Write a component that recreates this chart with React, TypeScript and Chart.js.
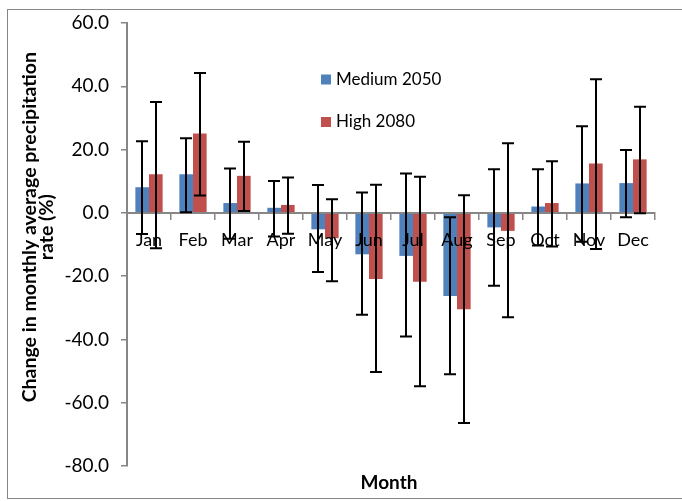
import React, { useEffect, useRef } from "react";
import { Chart, registerables } from "chart.js";

Chart.register(...registerables);

// ---- Data ----
const months = ["Jan", "Feb", "Mar", "Apr", "May", "Jun", "Jul", "Aug", "Sep", "Oct", "Nov", "Dec"];
const seriesNames = ["Medium 2050", "High 2080"];
const medium2050 = [8.1, 12.2, 3.1, 1.6, -5.2, -13.1, -13.6, -26.3, -4.6, 2.0, 9.3, 9.4];
const high2080 = [12.2, 25.1, 11.7, 2.5, -8.0, -20.9, -21.8, -30.5, -5.7, 3.1, 15.6, 16.9];
const medium2050Upper = [22.6, 23.6, 14.0, 10.1, 8.8, 6.4, 12.4, -1.4, 13.8, 13.8, 27.4, 19.9];
const medium2050Lower = [-6.7, 0.2, -8.2, -7.5, -18.7, -32.2, -39.1, -51.0, -23.0, -10.3, -9.1, -1.4];
const high2080Upper = [35.0, 44.2, 22.5, 11.2, 4.3, 8.9, 11.4, 5.6, 22.0, 16.3, 42.2, 33.5];
const high2080Lower = [-11.2, 5.5, 0.6, -6.6, -21.6, -50.3, -54.8, -66.4, -33.0, -10.6, -11.4, -0.1];
const yTickValues = [-80, -60, -40, -20, 0, 20, 40, 60];
const yTitleLines = ["Change in monthly average precipitation", "rate (%)"];
const xTitle = "Month";

const BLUE = "#4F81BD";
const RED = "#C0504D";
const AXIS = "#868686";
const FONT = "Lato";

export default function App() {
  const ref = useRef<HTMLCanvasElement | null>(null);

  useEffect(() => {
    if (!ref.current) return;
    const uppers = [medium2050Upper, high2080Upper];
    const lowers = [medium2050Lower, high2080Lower];

    const errorBars = {
      id: "errorBars",
      afterDraw(chart: any) {
        const ctx = chart.ctx;
        const yScale = chart.scales.y;
        ctx.save();
        ctx.strokeStyle = "#000";
        ctx.lineWidth = 2;
        for (let d = 0; d < chart.data.datasets.length; d++) {
          const meta = chart.getDatasetMeta(d);
          meta.data.forEach((el: any, i: number) => {
            const x = Math.round(el.x);
            const yHi = yScale.getPixelForValue(uppers[d][i]);
            const yLo = yScale.getPixelForValue(lowers[d][i]);
            const cap = 6;
            ctx.beginPath();
            ctx.moveTo(x, yHi);
            ctx.lineTo(x, yLo);
            ctx.moveTo(x - cap, yHi);
            ctx.lineTo(x + cap, yHi);
            ctx.moveTo(x - cap, yLo);
            ctx.lineTo(x + cap, yLo);
            ctx.stroke();
          });
        }
        ctx.restore();
      },
    };

    const annotations = {
      id: "annotations",
      afterDraw(chart: any) {
        const ctx = chart.ctx;
        const area = chart.chartArea;
        ctx.save();
        ctx.fillStyle = "#000";
        // Y-axis title (two lines, rotated)
        ctx.font = `bold 19.5px ${FONT}`;
        ctx.textAlign = "center";
        ctx.textBaseline = "middle";
        const cy = area.top + (area.bottom - area.top) * 0.461;
        [22, 39].forEach((x, k) => {
          ctx.save();
          ctx.translate(x, cy);
          ctx.rotate(-Math.PI / 2);
          ctx.fillText(yTitleLines[k], 0, 0);
          ctx.restore();
        });
        // X-axis title
        ctx.font = `bold 19px ${FONT}`;
        ctx.fillText(xTitle, (area.left + area.right) / 2 - 2, area.bottom + 17);
        // Legend
        ctx.font = `17px ${FONT}`;
        ctx.textAlign = "left";
        const colors = [BLUE, RED];
        const legendX = 313;
        const legendY = [69.5, 112];
        seriesNames.forEach((name, k) => {
          ctx.fillStyle = colors[k];
          ctx.fillRect(legendX, legendY[k] - 5, 10, 10);
          ctx.fillStyle = "#000";
          ctx.fillText(name, legendX + 15, legendY[k]);
        });
        ctx.restore();
      },
    };

    const chart = new Chart(ref.current, {
      type: "bar",
      data: {
        labels: months,
        datasets: [
          {
            label: seriesNames[0],
            data: medium2050,
            backgroundColor: BLUE,
            categoryPercentage: 0.62,
            barPercentage: 1,
          },
          {
            label: seriesNames[1],
            data: high2080,
            backgroundColor: RED,
            categoryPercentage: 0.62,
            barPercentage: 1,
          },
        ],
      },
      options: {
        responsive: false,
        animation: false,
        layout: { padding: { left: 0, top: 13, right: 27, bottom: 32 } },
        plugins: {
          legend: { display: false },
          tooltip: { enabled: false },
          title: { display: false },
        },
        scales: {
          x: {
            position: { y: 0 } as any,
            z: 1,
            offset: true,
            afterFit: (s: any) => {
              s.paddingLeft = 0;
              s.paddingRight = 0;
            },
            grid: {
              display: true,
              drawOnChartArea: false,
              drawTicks: true,
              tickLength: 6,
              color: AXIS,
              lineWidth: 1.5,
              offset: true,
              z: 1,
            },
            border: { display: true, color: AXIS, width: 2, z: 1 },
            ticks: {
              color: "#000",
              font: { family: FONT, size: 18 },
              padding: 11,
              maxRotation: 0,
              autoSkip: false,
              z: 2,
            },
          },
          y: {
            min: -80,
            max: 60,
            afterFit: (s: any) => {
              s.width = 119;
              s.paddingTop = 0;
              s.paddingBottom = 0;
            },
            afterBuildTicks: (s: any) => {
              s.ticks = yTickValues.map((v) => ({ value: v }));
            },
            grid: {
              display: true,
              drawOnChartArea: false,
              drawTicks: true,
              tickLength: 6,
              color: AXIS,
              lineWidth: 1.5,
            },
            border: { display: true, color: AXIS, width: 2 },
            ticks: {
              color: "#000",
              font: { family: FONT, size: 19 },
              padding: 12,
              callback: (v: any) => Number(v).toFixed(1),
            },
          },
        },
      },
      plugins: [errorBars, annotations],
    });
    return () => chart.destroy();
  }, []);

  return (
    <div
      style={{
        position: "absolute",
        left: 7,
        top: 9,
        width: 675,
        height: 490,
        boxSizing: "border-box",
        border: `1px solid ${AXIS}`,
        borderRight: "none",
        background: "#fff",
        overflow: "hidden",
      }}
    >
      <canvas ref={ref} width={674} height={488} style={{ display: "block", width: 674, height: 488 }} />
    </div>
  );
}
